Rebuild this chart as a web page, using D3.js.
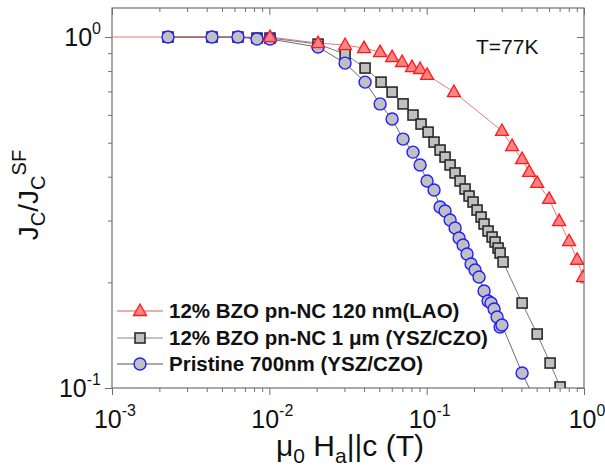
<!DOCTYPE html>
<html><head><meta charset="utf-8">
<script src="https://cdn.jsdelivr.net/npm/d3@7"></script>
<style>
body{margin:0;background:#fff}
svg{display:block}
text{font-family:Arial,"Liberation Sans",sans-serif;fill:#111}
</style>
</head><body>
<svg id="c" width="605" height="470"></svg>
<script>
// ---- data ----
const seriesNames = ["12% BZO pn-NC 120 nm(LAO)", "12% BZO pn-NC 1 \u03BCm (YSZ/CZO)", "Pristine 700nm (YSZ/CZO)"];

const laoField = [0.0005, 0.0101, 0.0204, 0.0303, 0.040, 0.0506, 0.0603, 0.0698, 0.0807, 0.0908, 0.1006, 0.149, 0.301, 0.349, 0.404, 0.448, 0.504, 0.600, 0.695, 0.804, 0.904, 0.986];
const laoJc    = [1.0, 1.0, 0.961, 0.949, 0.930, 0.906, 0.877, 0.849, 0.821, 0.811, 0.780, 0.697, 0.540, 0.489, 0.449, 0.413, 0.384, 0.346, 0.299, 0.262, 0.232, 0.207];

const yszField = [0.00227, 0.00432, 0.00632, 0.00835, 0.0101, 0.0204, 0.0303, 0.0406, 0.0513, 0.0603, 0.0708, 0.0819, 0.0921, 0.1021, 0.1114, 0.1217, 0.1309, 0.1409, 0.1516, 0.1631, 0.1754, 0.186, 0.1972, 0.2091, 0.2217, 0.2317, 0.2456, 0.2605, 0.2722, 0.2844, 0.2929, 0.3060, 0.4042, 0.504, 0.609, 0.705, 1.0];
const yszJc    = [1.0, 1.0, 1.0, 0.9935, 0.9935, 0.955, 0.894, 0.816, 0.744, 0.697, 0.645, 0.5995, 0.565, 0.536, 0.502, 0.4766, 0.455, 0.432, 0.410, 0.389, 0.369, 0.3524, 0.3388, 0.3214, 0.307, 0.2933, 0.2801, 0.2693, 0.2606, 0.2505, 0.2424, 0.2286, 0.1746, 0.1425, 0.1178, 0.1007, 0.069];

const priField = [0.00227, 0.00432, 0.00632, 0.00835, 0.0101, 0.0204, 0.0303, 0.0406, 0.0506, 0.0603, 0.0708, 0.0819, 0.0908, 0.1006, 0.1114, 0.1217, 0.1309, 0.1409, 0.1516, 0.1607, 0.1704, 0.1806, 0.1916, 0.2031, 0.2153, 0.2317, 0.2456, 0.2567, 0.2683, 0.2803, 0.2929, 0.301, 0.4042, 0.7];
const priJc    = [1.0, 1.0, 1.0, 0.987, 0.987, 0.9366, 0.843, 0.744, 0.645, 0.584, 0.512, 0.470, 0.432, 0.389, 0.3666, 0.328, 0.3193, 0.301, 0.2856, 0.2675, 0.2555, 0.2409, 0.2256, 0.2169, 0.2072, 0.189, 0.177, 0.1746, 0.168, 0.1594, 0.1492, 0.1512, 0.1103, 0.066];

const xTicks = [0.001, 0.01, 0.1, 1];
const xTickExp = ["-3", "-2", "-1", "0"];
const yTicks = [0.1, 1];
const yTickExp = ["-1", "0"];
const tempLabel = "T=77K";

// ---- layout ----
const L = 112, R = 584, T = 8, B = 388;
const svg = d3.select("#c");
const x = d3.scaleLog().domain([1e-3, 1]).range([L, R]);
const y = d3.scaleLog().domain([0.1, 1.21]).range([B, T]);

svg.append("defs").append("clipPath").attr("id", "clip")
  .append("rect").attr("x", L).attr("y", T).attr("width", R - L).attr("height", B - T);

const axisCol = "#707070";

const xMinor = [];
[0.001, 0.01, 0.1].forEach(d => { for (let k = 2; k <= 9; k++) xMinor.push(d * k); });
const yMinor = [];
for (let k = 2; k <= 9; k++) yMinor.push(0.1 * k);

svg.append("g").attr("transform", `translate(0,${B})`)
  .call(d3.axisBottom(x).tickValues(xTicks).tickSize(7).tickFormat(""));
svg.append("g").attr("transform", `translate(0,${B})`)
  .call(d3.axisBottom(x).tickValues(xMinor).tickSize(4).tickFormat(""));
svg.append("g").attr("transform", `translate(0,${T})`)
  .call(d3.axisBottom(x).tickValues(xTicks).tickSize(7).tickFormat(""));
svg.append("g").attr("transform", `translate(0,${T})`)
  .call(d3.axisBottom(x).tickValues(xMinor).tickSize(4).tickFormat(""));
svg.append("g").attr("transform", `translate(${L},0)`)
  .call(d3.axisLeft(y).tickValues(yTicks).tickSize(7).tickFormat(""));
svg.append("g").attr("transform", `translate(${L},0)`)
  .call(d3.axisLeft(y).tickValues(yMinor).tickSize(4).tickFormat(""));
svg.append("g").attr("transform", `translate(${R},0)`)
  .call(d3.axisLeft(y).tickValues(yTicks).tickSize(7).tickFormat(""));
svg.append("g").attr("transform", `translate(${R},0)`)
  .call(d3.axisLeft(y).tickValues(yMinor).tickSize(4).tickFormat(""));
svg.selectAll(".domain").remove();
svg.selectAll(".tick line").attr("stroke", axisCol).attr("stroke-width", 1);
svg.append("rect").attr("x", L).attr("y", T).attr("width", R - L).attr("height", B - T)
  .attr("fill", "none").attr("stroke", axisCol).attr("stroke-width", 1.2);

// tick labels
xTicks.forEach((v, i) => {
  const t = svg.append("text").attr("x", x(v) + 3).attr("y", 428)
    .attr("text-anchor", "middle").attr("font-size", 25);
  t.append("tspan").text("10");
  t.append("tspan").attr("dy", -12).attr("font-size", 16).text(xTickExp[i]);
});
yTicks.forEach((v, i) => {
  const t = svg.append("text").attr("x", 101).attr("y", y(v) + 9)
    .attr("text-anchor", "end").attr("font-size", 25);
  t.append("tspan").text("10");
  t.append("tspan").attr("dy", -12).attr("font-size", 16).text(yTickExp[i]);
});

// axis titles
const xt = svg.append("text").attr("x", 350).attr("y", 456).attr("text-anchor", "middle").attr("font-size", 30);
xt.append("tspan").text("\u03BC");
xt.append("tspan").attr("dy", 7).attr("font-size", 21).text("0");
xt.append("tspan").attr("dy", -7).text(" H");
xt.append("tspan").attr("dy", 7).attr("font-size", 21).text("a");
xt.append("tspan").attr("dy", -7).text("||c (T)");

const yt = svg.append("text").attr("transform", "translate(38,195) rotate(-90)")
  .attr("text-anchor", "middle").attr("font-size", 28);
yt.append("tspan").text("J");
yt.append("tspan").attr("dy", 7).attr("font-size", 20).text("C");
yt.append("tspan").attr("dy", -7).text("/J");
yt.append("tspan").attr("dy", 7).attr("font-size", 20).text("C");
yt.append("tspan").attr("dy", -19).attr("font-size", 20).text("SF");

svg.append("text").attr("x", 476).attr("y", 54).attr("font-size", 21).text(tempLabel);

// ---- series ----
const plot = svg.append("g").attr("clip-path", "url(#clip)");
const mk = (xs, ys) => xs.map((v, i) => ({ x: v, y: ys[i] }));
const lao = mk(laoField, laoJc), ysz = mk(yszField, yszJc), pri = mk(priField, priJc);
const line = d3.line().x(d => x(d.x)).y(d => y(d.y));

plot.append("path").datum(ysz).attr("d", line).attr("fill", "none").attr("stroke", "#555").attr("stroke-width", 0.8);
plot.append("path").datum(pri).attr("d", line).attr("fill", "none").attr("stroke", "#444").attr("stroke-width", 0.8);
plot.append("path").datum(lao).attr("d", line).attr("fill", "none").attr("stroke", "#d85a5a").attr("stroke-width", 0.8);

const triPath = "M0,-7L6.5,4.5L-6.5,4.5Z";
function square(g, cx, cy) {
  g.append("rect").attr("x", cx - 5).attr("y", cy - 5).attr("width", 10).attr("height", 10)
    .attr("fill", "#c0c0c0").attr("stroke", "#2a2a2a").attr("stroke-width", 1.6);
}
function circle(g, cx, cy) {
  g.append("circle").attr("cx", cx).attr("cy", cy).attr("r", 6)
    .attr("fill", "#c0c0c0").attr("stroke", "#1f1fff").attr("stroke-width", 1.4);
}
function tri(g, cx, cy) {
  g.append("path").attr("d", triPath).attr("transform", `translate(${cx},${cy})`)
    .attr("fill", "#ff8383").attr("stroke", "#ff1a1a").attr("stroke-width", 1.3);
}
ysz.forEach(d => square(plot, x(d.x), y(d.y)));
pri.forEach(d => circle(plot, x(d.x), y(d.y)));
lao.forEach(d => tri(plot, x(d.x), y(d.y)));

// ---- legend ----
const legRows = [311, 338, 364];
const legLine = ["#d85a5a", "#888", "#555"];
const leg = svg.append("g");
legRows.forEach((ry, i) => {
  leg.append("line").attr("x1", 117).attr("x2", 163).attr("y1", ry).attr("y2", ry)
    .attr("stroke", legLine[i]).attr("stroke-width", 1);
  if (i === 0) tri(leg, 140, ry);
  if (i === 1) square(leg, 140, ry);
  if (i === 2) circle(leg, 140, ry);
  leg.append("text").attr("x", 169).attr("y", ry + 7).attr("font-size", 20.5)
    .attr("font-weight", "bold").text(seriesNames[i]);
});
</script>
</body></html>
